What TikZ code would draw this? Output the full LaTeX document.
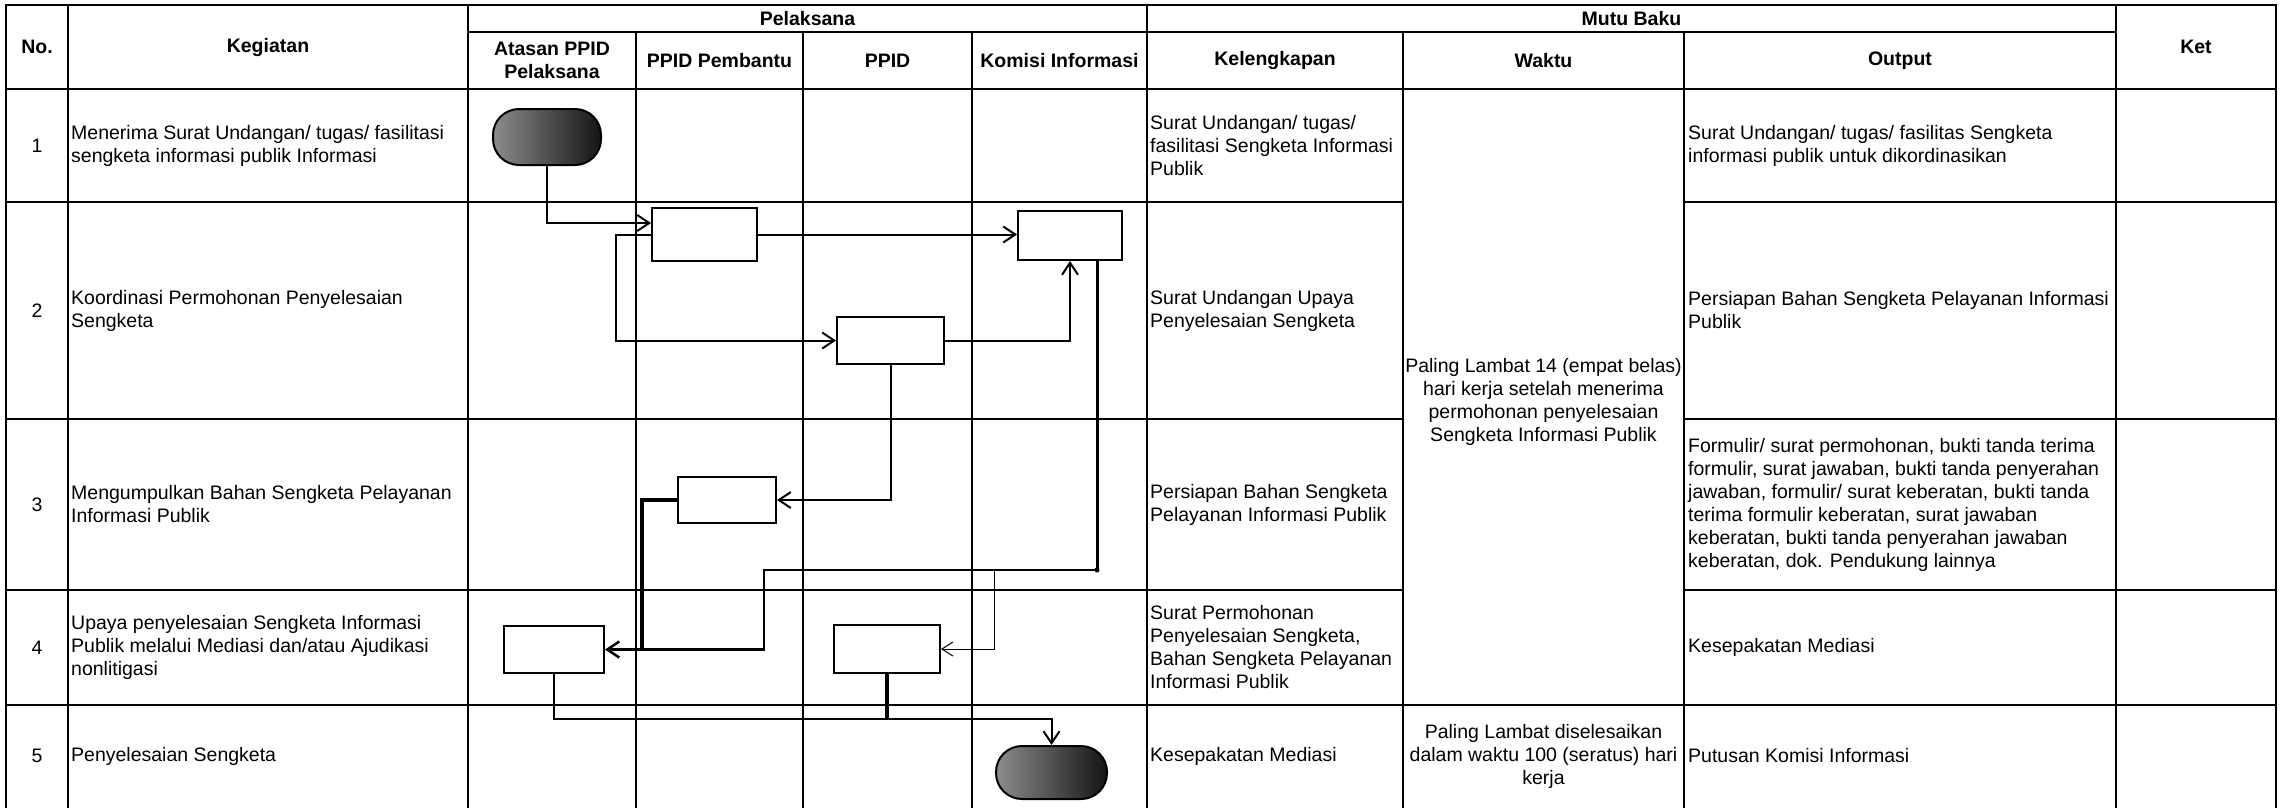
\documentclass[tikz,border=0pt]{standalone}
\usepackage{fontspec}
\setmainfont{Liberation Sans}
\usetikzlibrary{arrows.meta,calc}
\newcommand{\cellfont}{\fontsize{19.5}{23}\selectfont}
\begin{document}
\begin{tikzpicture}[x=1pt,y=-1pt,
  grid/.style={line width=2pt, line cap=rect},
  hdr/.style={font=\bfseries\cellfont, align=center, inner sep=0pt},
  cell/.style={font=\cellfont, align=left, anchor=west, inner sep=0pt},
  ctr/.style={font=\cellfont, align=center, inner sep=0pt},
  box/.style={draw, line width=2pt, fill=white, inner sep=0pt},
  term/.style={draw, line width=2pt, rounded corners=26pt, left color=black!45, right color=black!92, inner sep=0pt},
  flow/.style={line width=2pt, -{Straight Barb[length=12pt,width=16pt]}},
  thinflow/.style={line width=1pt, -{Straight Barb[length=11pt,width=14pt]}},
  heavy/.style={line width=4pt}
]
\useasboundingbox (0,0) rectangle (2284,807);
\fill[white] (0,0) rectangle (2284,807);

% ---------- grid ----------
\draw[grid] (6,5) -- (2276,5);
\foreach \x in {6,68,468,1147,2116,2276} \draw[grid] (\x,5) -- (\x,807);
\foreach \x in {636,803,972,1403,1684} \draw[grid] (\x,32) -- (\x,807);
\draw[grid] (468,32) -- (2116,32);
\draw[grid] (6,89) -- (2276,89);
\foreach \y in {202,419,590} {
  \draw[grid] (6,\y) -- (1403,\y);
  \draw[grid] (1684,\y) -- (2276,\y);
}
\draw[grid] (6,705) -- (2276,705);

% ---------- headers ----------
\node[hdr] (hNo) at (37,47) {No.};
\node[hdr] (hKeg) at (268,47) {Kegiatan};
\node[hdr] (hPel) at (807.5,18.5) {Pelaksana};
\node[hdr] (hAt) at (552,60.5) {Atasan PPID\\Pelaksana};
\node[hdr] (hPb) at (719.5,60.5) {PPID Pembantu};
\node[hdr] (hPp) at (887.5,60.5) {PPID};
\node[hdr] (hKi) at (1059.5,60.5) {Komisi Informasi};
\node[hdr] (hMb) at (1631.5,18.5) {Mutu Baku};
\node[hdr] (hKl) at (1275,60.5) {Kelengkapan};
\node[hdr] (hWk) at (1543.5,60.5) {Waktu};
\node[hdr] (hOu) at (1900,60.5) {Output};
\node[hdr] (hKet) at (2196,47) {Ket};

% ---------- numbers ----------
\node[ctr] (n1) at (37,145.5) {1};
\node[ctr] (n2) at (37,310.5) {2};
\node[ctr] (n3) at (37,504.5) {3};
\node[ctr] (n4) at (37,647.5) {4};
\node[ctr] (n5) at (37,756) {5};

% ---------- kegiatan ----------
\node[cell] (k1) at (71,145.5) {Menerima Surat Undangan/ tugas/ fasilitasi\\sengketa informasi publik Informasi};
\node[cell] (k2) at (71,310.5) {Koordinasi Permohonan Penyelesaian\\Sengketa};
\node[cell] (k3) at (71,504.5) {Mengumpulkan Bahan Sengketa Pelayanan\\Informasi Publik};
\node[cell] (k4) at (71,647.5) {Upaya penyelesaian Sengketa Informasi\\Publik melalui Mediasi dan/atau Ajudikasi\\nonlitigasi};
\node[cell] (k5) at (71,756) {Penyelesaian Sengketa};

% ---------- kelengkapan ----------
\node[cell] (l1) at (1150,145.5) {Surat Undangan/ tugas/\\fasilitasi Sengketa Informasi\\Publik};
\node[cell] (l2) at (1150,310.5) {Surat Undangan Upaya\\Penyelesaian Sengketa};
\node[cell] (l3) at (1150,504.5) {Persiapan Bahan Sengketa\\Pelayanan Informasi Publik};
\node[cell] (l4) at (1150,647.5) {Surat Permohonan\\Penyelesaian Sengketa,\\Bahan Sengketa Pelayanan\\Informasi Publik};
\node[cell] (l5) at (1150,756) {Kesepakatan Mediasi};

% ---------- waktu ----------
\node[ctr] (w1) at (1543.5,402) {Paling Lambat 14 (empat belas)\\hari kerja setelah menerima\\permohonan penyelesaian\\Sengketa Informasi Publik};
\node[ctr] (w5) at (1543.5,756) {Paling Lambat diselesaikan\\dalam waktu 100 (seratus) hari\\kerja};

% ---------- output ----------
\node[cell] (o1) at (1688,145.5) {Surat Undangan/ tugas/ fasilitas Sengketa\\informasi publik untuk dikordinasikan};
\node[cell] (o2) at (1688,310.5) {Persiapan Bahan Sengketa Pelayanan Informasi\\Publik};
\node[cell] (o3) at (1688,504.5) {Formulir/ surat permohonan, bukti tanda terima\\formulir, surat jawaban, bukti tanda penyerahan\\jawaban, formulir/ surat keberatan, bukti tanda\\terima formulir keberatan, surat jawaban\\keberatan, bukti tanda penyerahan jawaban\\keberatan, dok. Pendukung lainnya};
\node[cell] (o4) at (1688,647.5) {Kesepakatan Mediasi};
\node[cell] (o5) at (1688,756) {Putusan Komisi Informasi};

% ---------- flow shapes ----------
\node[term, minimum width=108pt, minimum height=56pt] (S) at (547,137) {};
\node[box, minimum width=105pt, minimum height=53pt] (A) at (704.5,234.5) {};
\node[box, minimum width=104pt, minimum height=49pt] (B) at (1070,235.5) {};
\node[box, minimum width=107pt, minimum height=47pt] (C) at (890.5,340.5) {};
\node[box, minimum width=98pt, minimum height=46pt] (D) at (727,500) {};
\node[box, minimum width=100pt, minimum height=47pt] (E) at (554,649.5) {};
\node[box, minimum width=106pt, minimum height=48pt] (F) at (887,649) {};
\node[term, minimum width=111pt, minimum height=53pt] (N) at (1051.5,772.5) {};

\coordinate (J) at (1097,570);
\coordinate (K) at (764,570);
\coordinate (Q) at (994,570);

% ---------- connectors ----------
\draw[flow] (S.south) |- ($(A.west)+(0,-11.5)$);
\draw[flow] (A.east) -- (A.east -| B.west);
\draw[flow] (A.west) -- ++(-35,0) |- (C.west);
\draw[flow] (C.east) -| (B.south);
\draw[flow] (C.south) |- (D.east);
\draw[line width=3pt] (J |- B.south) -- (J);
\fill (J) circle (2.5pt);
\draw[flow, line width=2.5pt] (J) -- (K) |- (E.east);
\draw[thinflow] (J) -- (Q) |- (F.east);
\draw[heavy] (D.west) -| ($(E.east)+(37,0)$);
\draw[flow] (E.south) -- ++(0,45) -| (N.north);
\draw[heavy] (F.south) -- ++(0,45);
\end{tikzpicture}
\end{document}
